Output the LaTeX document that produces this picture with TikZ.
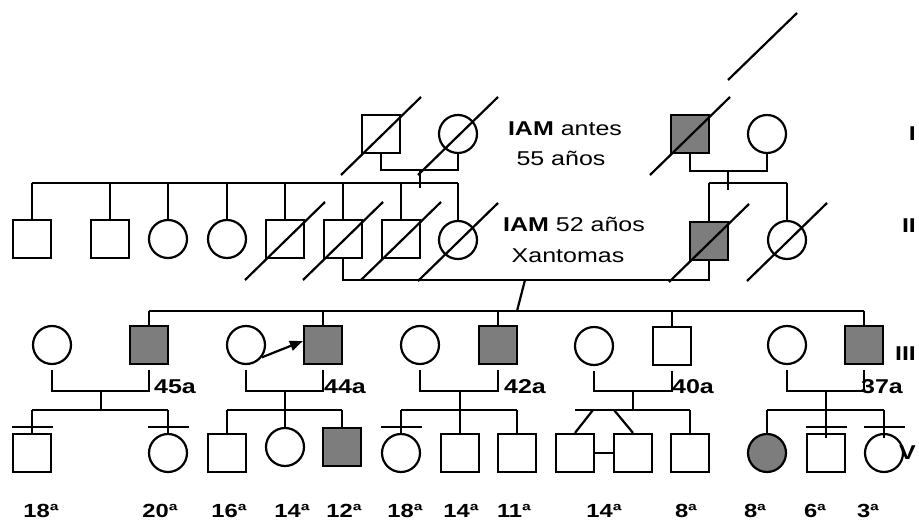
\documentclass[tikz,border=0pt]{standalone}
\usepackage{fontspec}
\setmainfont{Liberation Sans}
\newfontfamily\labfont[FakeStretch=1.25]{Liberation Sans}
\usetikzlibrary{arrows.meta,calc}
\definecolor{affgray}{RGB}{125,125,125}
\begin{document}
\begin{tikzpicture}[x=1pt,y=-1pt, line width=2.2pt,
  male/.style={draw, rectangle, minimum size=38pt, inner sep=0pt},
  female/.style={draw, circle, minimum size=38pt, inner sep=0pt},
  aff/.style={fill=affgray},
  lbl/.style={font=\labfont\fontsize{20}{24}\selectfont, anchor=base, inner sep=0pt},
  age/.style={font=\labfont\bfseries\fontsize{19}{22}\selectfont, anchor=base, inner sep=0pt},
  yrs/.style={font=\labfont\bfseries\fontsize{20}{24}\selectfont, anchor=base west, inner sep=0pt},
  gen/.style={font=\labfont\bfseries\fontsize{20}{24}\selectfont, anchor=east, inner sep=0pt}]
\useasboundingbox (0,0) rectangle (919,526);

% Generation I
\node[male] (I1) at (381,134) {};
\node[female] (I2) at (458,134) {};
\node[male,aff] (I3) at (690,134) {};
\node[female] (I4) at (767,134) {};
\coordinate (m1) at (420,170);
\coordinate (m2) at (728,171);
\draw (I1.south) |- (m1) -| (I2.south);
\draw (I3.south) |- (m2) -| (I4.south);
\draw (m1) -- ++(0,18);
\draw (m2) -- ++(0,19);
\draw (728,80) -- (797,13);

% Generation II
\node[male] (II1) at (32,239) {};
\node[male] (II2) at (110,239) {};
\node[female] (II3) at (168,239) {};
\node[female] (II4) at (227,239) {};
\node[male] (II5) at (285,239) {};
\node[male] (II6) at (343,239) {};
\node[male] (II7) at (401,239) {};
\node[female] (II8) at (458,240) {};
\node[male,aff] (II9) at (709,241) {};
\node[female] (II10) at (787,240) {};
\coordinate (s1) at (420,183);
\coordinate (s2) at (728,183);
\draw (II1.north |- s1) -- (II8.north |- s1);
\foreach \n in {II1,II2,II3,II4,II5,II6,II7,II8} \draw (\n.north) -- (\n.north |- s1);
\draw (II9.north |- s2) -- (II10.north |- s2);
\foreach \n in {II9,II10} \draw (\n.north) -- (\n.north |- s2);

\foreach \n in {I1,I2,I3,II5,II6,II7,II8,II9,II10}
  \draw (\n.center) ++(-40,41) -- ++(80,-78);

\coordinate (m3) at (525,280);
\coordinate (s3) at (517,311);
\draw (II6.south) |- (m3) -| (II9.south);
\draw (m3) -- (s3);

% Generation III
\node[female] (III1) at (52,345) {};
\node[male,aff] (III2) at (149,345) {};
\node[female] (III3) at (246,345) {};
\node[male,aff] (III4) at (323,345) {};
\node[female] (III5) at (420,345) {};
\node[male,aff] (III6) at (498,345) {};
\node[female] (III7) at (594,346) {};
\node[male] (III8) at (672,346) {};
\node[female] (III9) at (787,345) {};
\node[male,aff] (III10) at (864,345) {};
\draw (III2.north |- s3) -- (III10.north |- s3);
\foreach \n in {III2,III4,III6,III8,III10} \draw (\n.north) -- (\n.north |- s3);
\draw[-{Triangle[length=13pt,width=10pt]}] (III3.-38) -- ([yshift=4pt]III4.west);

\coordinate (m4) at (101,391);
\coordinate (m5) at (285,391);
\coordinate (m6) at (460,391);
\coordinate (m7) at (633,391);
\coordinate (m8) at (826,391);
\coordinate (s4) at (101,410);
\coordinate (s5) at (285,410);
\coordinate (s6) at (460,410);
\coordinate (s7) at (633,410);
\coordinate (s8) at (826,410);
\draw ($(III1.south)+(0,5)$) |- (m4) -| ($(III2.south)+(0,5)$);
\draw ($(III3.south)+(0,5)$) |- (m5) -| ($(III4.south)+(0,5)$);
\draw ($(III5.south)+(0,5)$) |- (m6) -| ($(III6.south)+(0,5)$);
\draw ($(III7.south)+(0,5)$) |- (m7) -| ($(III8.south)+(0,5)$);
\draw ($(III9.south)+(0,5)$) |- (m8) -| ($(III10.south)+(0,5)$);

% Generation IV
\node[male] (IV1) at (32,453) {};
\node[female] (IV2) at (168,453) {};
\node[male] (IV3) at (227,453) {};
\node[female] (IV4) at (285,447) {};
\node[male,aff] (IV5) at (342,447) {};
\node[female] (IV6) at (401,453) {};
\node[male] (IV7) at (460,453) {};
\node[male] (IV8) at (517,453) {};
\node[male] (IV9) at (575,453) {};
\node[male] (IV10) at (633,453) {};
\node[male] (IV11) at (690,453) {};
\node[female,aff] (IV12) at (767,453) {};
\node[male] (IV13) at (826,453) {};
\node[female] (IV14) at (884,453) {};

\draw (m4) -- (s4);
\draw (IV1.north |- s4) -- (IV2.north |- s4);
\foreach \n in {IV1,IV2} \draw (\n.north) -- (\n.north |- s4);

\draw (m5) -- (IV4.north);
\draw (IV3.north |- s5) -- (IV5.north |- s5);
\foreach \n in {IV3,IV5} \draw (\n.north) -- (\n.north |- s5);

\draw (m6) -- (IV7.north);
\draw (IV6.north |- s6) -- (IV8.north |- s6);
\foreach \n in {IV6,IV8} \draw (\n.north) -- (\n.north |- s6);

\draw (m7) -- (s7);
\draw (IV9.north |- s7) -- (IV11.north |- s7);
\draw ($(IV9.north |- s7)+(18,0)$) -- (IV9.north);
\draw ($(IV10.north |- s7)+(-19,0)$) -- (IV10.north);
\draw (IV9.east) -- (IV10.west);
\draw (IV11.north) -- (IV11.north |- s7);

\draw (m8) -- ($(IV13.north)+(0,5)$);
\draw (IV12.north |- s8) -- (IV14.north |- s8);
\draw (IV12.north) -- (IV12.north |- s8);
\draw ($(IV14.north)+(0,5)$) -- (IV14.north |- s8);

\foreach \n in {IV1,IV2,IV6,IV13,IV14}
  \draw ($(\n.north)+(-20,-6)$) -- ++(41,0);

% Texts
\node[lbl] (t1) at (565,136) {\textbf{IAM} antes};
\node[lbl] (t2) at (561,166) {55 años};
\node[lbl] (t3) at (574,232) {\textbf{IAM} 52 años};
\node[lbl] (t4) at (568,263) {Xantomas};

\node[yrs] (a1) at (153,394) {45a};
\node[yrs] (a2) at (323,394) {44a};
\node[yrs] (a3) at (503,394) {42a};
\node[yrs] (a4) at (671,394) {40a};
\node[yrs] (a5) at (860,394) {37a};

\node[gen] (g1) at (917,134) {I};
\node[gen] (g2) at (917,226) {II};
\node[gen] (g3) at (917,354) {III};
\node[gen] (g4) at (917,453) {V};

\node[age] (e1) at (41,518) {18ª};
\node[age] (e2) at (160,518) {20ª};
\node[age] (e3) at (229,518) {16ª};
\node[age] (e4) at (292,518) {14ª};
\node[age] (e5) at (344,518) {12ª};
\node[age] (e6) at (405,518) {18ª};
\node[age] (e7) at (461,518) {14ª};
\node[age] (e8) at (514,518) {11ª};
\node[age] (e9) at (604,518) {14ª};
\node[age] (e10) at (686,518) {8ª};
\node[age] (e11) at (755,518) {8ª};
\node[age] (e12) at (815,518) {6ª};
\node[age] (e13) at (868,518) {3ª};
\end{tikzpicture}
\end{document}
